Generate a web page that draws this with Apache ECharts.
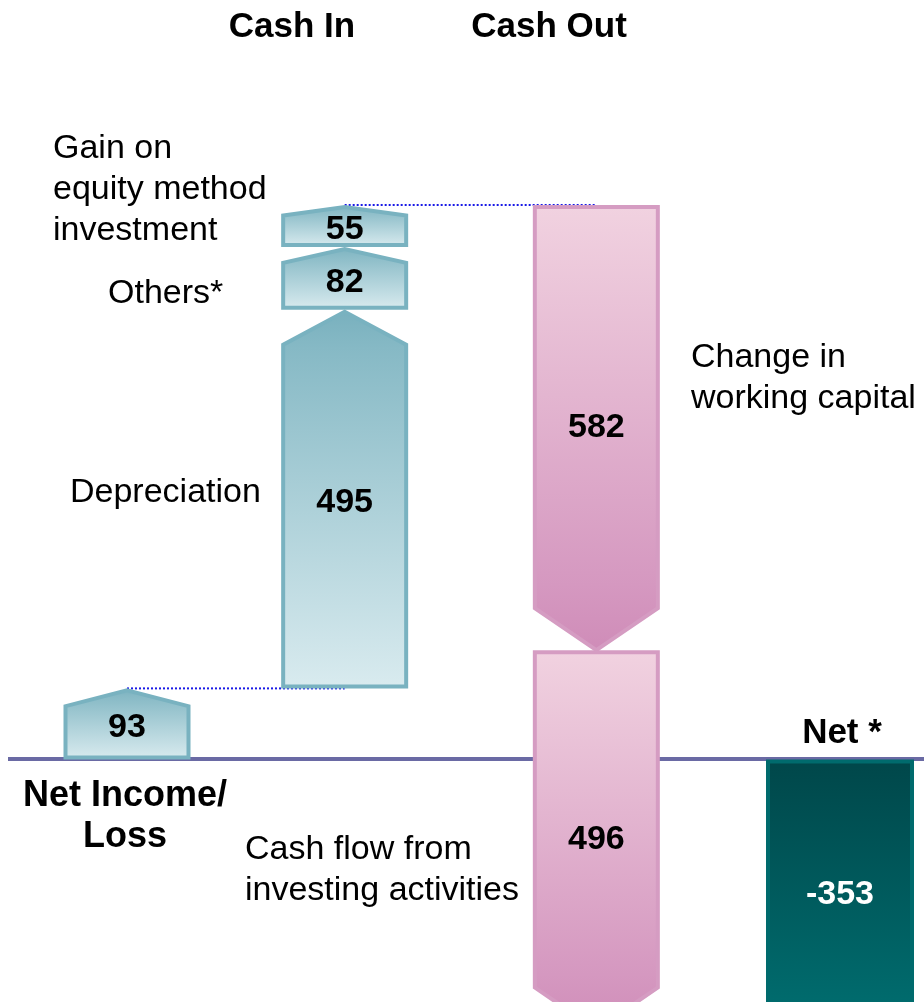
<!DOCTYPE html>
<html>
<head>
<meta charset="utf-8">
<title>Cash flow</title>
<script src="https://cdn.jsdelivr.net/npm/echarts@6/dist/echarts.min.js"></script>
<style>
  html, body { margin: 0; padding: 0; background: #fff; }
  #chart { width: 924px; height: 1002px; }
</style>
</head>
<body>
<div id="chart"></div>
<script>
// columns
const categories = ['Net Income/\nLoss', 'Cash In', 'Cash Out', 'Net *'];

// values
const netIncome = 93;
const cashInNames = ['Depreciation', 'Others*', 'Gain on\nequity method\ninvestment'];
const cashInValues = [495, 82, 55];
const cashOutNames = ['Change in\nworking capital', 'Cash flow from\ninvesting activities'];
const cashOutValues = [582, 496];
const netValue = -353;

// build the waterfall blocks from the arrays
const blocks = [];
let run = 0;
blocks.push({ cat: 0, start: 0, end: netIncome, kind: 'in' });
run += netIncome;
cashInValues.forEach(v => {
  blocks.push({ cat: 1, start: run, end: run + v, kind: 'in' });
  run += v;
});
const cashInTop = run;
cashOutValues.forEach(v => {
  blocks.push({ cat: 2, start: run, end: run - v, kind: 'out' });
  run -= v;
});
blocks.push({ cat: 3, start: 0, end: netValue, kind: 'net' });

const connectors = [
  [0, 1, netIncome],
  [1, 2, cashInTop]
];

// layout tweaks (pixels)
const colNudge = [6, -14, 0, 6];
const font = '"Liberation Sans", Arial, sans-serif';

const fills = {
  in: new echarts.graphic.LinearGradient(0, 0, 0, 1, [
    { offset: 0, color: '#78b0be' },
    { offset: 0.1, color: '#86b9c5' },
    { offset: 1, color: '#d9ebef' }
  ]),
  out: new echarts.graphic.LinearGradient(0, 0, 0, 1, [
    { offset: 0, color: '#f1d2e0' },
    { offset: 0.85, color: '#d598c0' },
    { offset: 1, color: '#cf8cb8' }
  ]),
  net: new echarts.graphic.LinearGradient(0, 0, 0, 1, [
    { offset: 0, color: '#00474a' },
    { offset: 1, color: '#006f71' }
  ])
};
const strokes = { in: '#79b2c0', out: '#d59cc2', net: '#006b6d' };

function renderBlock(params, api) {
  const b = blocks[params.dataIndex];
  const p0 = api.coord([b.cat, b.start]);
  const p1 = api.coord([b.cat, b.end]);
  const xc = p0[0] + colNudge[b.cat];
  const half = (b.kind === 'net' ? 148 : 127) / 2 - 2;
  const xl = xc - half, xr = xc + half;
  const y0 = p0[1], y1 = p1[1];
  let pts;
  if (b.kind === 'in') {
    const head = Math.min(35, 0.25 * (y0 - y1));
    pts = [[xl, y0 - 2], [xr, y0 - 2], [xr, y1 + head], [xc, y1 + 2], [xl, y1 + head]];
  } else if (b.kind === 'out') {
    const head = 42;
    pts = [[xl, y0 + 2], [xr, y0 + 2], [xr, y1 - head], [xc, y1], [xl, y1 - head]];
  } else {
    pts = [[xl, y0 + 2], [xr, y0 + 2], [xr, y1], [xl, y1]];
  }
  const label = String(b.kind === 'in' ? b.end - b.start : b.kind === 'out' ? b.start - b.end : b.end);
  return {
    type: 'group',
    children: [
      {
        type: 'polygon',
        shape: { points: pts },
        style: { fill: fills[b.kind], stroke: strokes[b.kind], lineWidth: 4, lineJoin: 'miter' }
      },
      {
        type: 'text',
        x: xc,
        y: (y0 + y1) / 2 + (b.kind === 'in' ? 4 : 0),
        style: {
          text: label,
          fill: b.kind === 'net' ? '#fff' : '#000',
          font: 'bold 34px ' + font,
          align: 'center',
          verticalAlign: 'middle'
        }
      }
    ]
  };
}

function renderConnector(params, api) {
  const c = connectors[params.dataIndex];
  const a = api.coord([c[0], c[2]]);
  const b = api.coord([c[1], c[2]]);
  return {
    type: 'line',
    shape: { x1: a[0] + colNudge[c[0]], y1: a[1], x2: b[0] + colNudge[c[1]], y2: b[1] },
    style: { stroke: '#1a1ae6', lineWidth: 2, lineDash: [2, 2] }
  };
}

function txt(text, x, y, opts) {
  return {
    type: 'text',
    x: x,
    y: y,
    style: Object.assign({
      text: text,
      fill: '#000',
      font: '34px ' + font,
      lineHeight: 41,
      align: 'left',
      verticalAlign: 'middle'
    }, opts || {})
  };
}

const chart = echarts.init(document.getElementById('chart'));
chart.setOption({
  animation: false,
  grid: { left: 121, right: 90, top: 0, bottom: 0 },
  xAxis: { type: 'category', data: categories, boundaryGap: false, show: false },
  yAxis: { type: 'value', min: -317, max: 993, show: false },
  graphic: [
    {
      type: 'line',
      shape: { x1: 8, y1: 759, x2: 924, y2: 759 },
      style: { stroke: '#6a6aa4', lineWidth: 4 },
      z: 1
    },
    txt(categories[1], 292, 27, { font: 'bold 35px ' + font, align: 'center' }),
    txt(categories[2], 549, 27, { font: 'bold 35px ' + font, align: 'center' }),
    txt(categories[0], 125, 817, { font: 'bold 36px ' + font, align: 'center' }),
    txt(categories[3], 842, 733, { font: 'bold 35px ' + font, align: 'center' }),
    txt(cashInNames[2], 53, 190),
    txt(cashInNames[1], 108, 294),
    txt(cashInNames[0], 70, 493),
    txt(cashOutNames[0], 691, 378),
    txt(cashOutNames[1], 245, 870)
  ],
  series: [
    {
      type: 'custom',
      name: 'links',
      z: 2,
      data: connectors.map(c => [c[0], c[2]]),
      renderItem: renderConnector
    },
    {
      type: 'custom',
      name: 'blocks',
      z: 3,
      data: blocks.map(b => [b.cat, b.start, b.end]),
      encode: { x: 0, y: [1, 2] },
      renderItem: renderBlock
    }
  ]
});
</script>
</body>
</html>
